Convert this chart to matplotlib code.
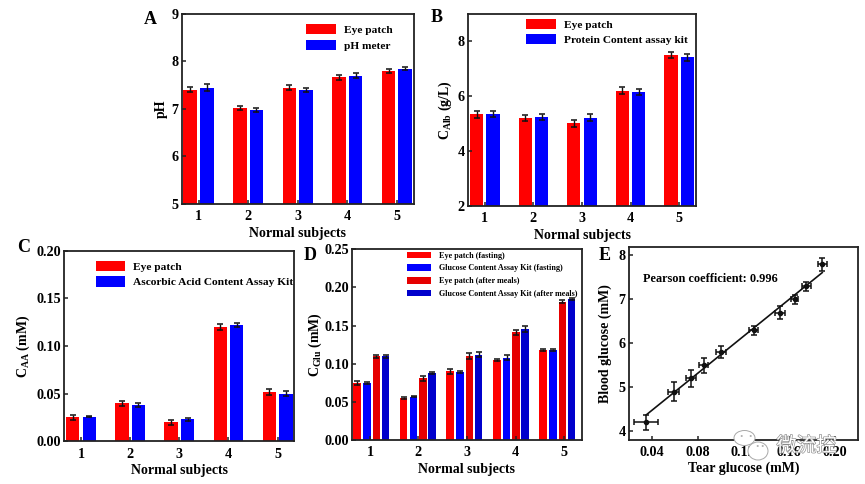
import matplotlib
matplotlib.use("Agg")
import matplotlib.pyplot as plt
import matplotlib.patheffects as pe
import numpy as np
from matplotlib.patches import Circle, Ellipse

plt.rcParams['font.family'] = ['Liberation Serif', 'DejaVu Serif']
plt.rcParams['font.weight'] = 'bold'
plt.rcParams['axes.labelweight'] = 'bold'
plt.rcParams['mathtext.fontset'] = 'custom'
plt.rcParams['mathtext.rm'] = 'Liberation Serif:bold'
plt.rcParams['mathtext.default'] = 'rm'

W, H = 865, 484
subjects = [1, 2, 3, 4, 5]

# A
ph_patch = [7.41, 7.02, 7.45, 7.67, 7.80]
ph_patch_err = [0.06, 0.05, 0.05, 0.05, 0.04]
ph_meter = [7.45, 6.98, 7.40, 7.70, 7.85]
ph_meter_err = [0.07, 0.04, 0.04, 0.05, 0.03]

# B
alb_patch = [5.33, 5.20, 5.00, 6.20, 7.50]
alb_patch_err = [0.12, 0.12, 0.12, 0.12, 0.12]
alb_kit = [5.35, 5.24, 5.21, 6.15, 7.41]
alb_kit_err = [0.12, 0.12, 0.13, 0.12, 0.12]

# C
aa_patch = [0.025, 0.040, 0.020, 0.120, 0.052]
aa_patch_err = [0.003, 0.0025, 0.0025, 0.003, 0.003]
aa_kit = [0.026, 0.038, 0.023, 0.122, 0.050]
aa_kit_err = [0.001, 0.0025, 0.0015, 0.0025, 0.0025]

# D
glu_patch_fast = [0.075, 0.055, 0.090, 0.105, 0.118]
glu_patch_fast_err = [0.003, 0.001, 0.003, 0.001, 0.001]
glu_kit_fast = [0.075, 0.057, 0.089, 0.108, 0.118]
glu_kit_fast_err = [0.001, 0.001, 0.001, 0.003, 0.001]
glu_patch_meal = [0.110, 0.081, 0.110, 0.141, 0.181]
glu_patch_meal_err = [0.002, 0.003, 0.004, 0.003, 0.002]
glu_kit_meal = [0.110, 0.088, 0.112, 0.145, 0.185]
glu_kit_meal_err = [0.002, 0.001, 0.003, 0.004, 0.001]

# E
tear = [0.035, 0.059, 0.0742, 0.0855, 0.1005, 0.129, 0.152, 0.165, 0.175, 0.189]
tear_err = [0.0105, 0.005, 0.004, 0.004, 0.004, 0.004, 0.004, 0.003, 0.004, 0.004]
blood = [4.2, 4.9, 5.2, 5.5, 5.8, 6.3, 6.7, 7.0, 7.3, 7.8]
blood_err = [0.17, 0.22, 0.2, 0.17, 0.14, 0.1, 0.14, 0.11, 0.1, 0.15]
fit_x = [0.035, 0.189]
fit_y = [4.37, 7.61]

err_style = dict(ecolor='#111111', elinewidth=1, capsize=2.2, capthick=1.1)
leg_style = dict(loc='upper right', frameon=False, fontsize=8.2, handlelength=2.6, handleheight=1.0,
                 labelspacing=0.4, handletextpad=0.7, borderpad=0, borderaxespad=0)


def make_axes(left, right, top, bottom):
    ax = fig.add_axes([left / W, 1 - bottom / H, (right - left) / W, (bottom - top) / H])
    for s in ax.spines.values():
        s.set_linewidth(1.3)
        s.set_color('#222222')
    ax.tick_params(direction='in', length=3, width=1.1, labelsize=10.2, color='#222222')
    ax.tick_params(axis='x', pad=4.5)
    ax.tick_params(axis='y', pad=2.5)
    return ax


def two_bars(ax, a, a_err, b, b_err, label_a, label_b):
    x = np.array(subjects)
    ax.bar(x - 0.168, a, 0.272, color='#ff0000', label=label_a, yerr=a_err, error_kw=err_style)
    ax.bar(x + 0.168, b, 0.272, color='#0000ff', label=label_b, yerr=b_err, error_kw=err_style)
    ax.set_xlim(0.66, 5.34)
    ax.set_xticks(subjects)
    ax.set_xlabel('Normal subjects', fontsize=10, labelpad=2.6)


def panel_letter(x, y, s):
    fig.text(x / W, 1 - y / H, s, fontsize=13, ha='left', va='center')


fig = plt.figure(figsize=(W / 100, H / 100), dpi=100)

# panel A
ax = make_axes(181.7, 413.7, 14, 204)
two_bars(ax, ph_patch, ph_patch_err, ph_meter, ph_meter_err, 'Eye patch', 'pH meter')
ax.set_ylim(5, 9)
ax.set_yticks([5, 6, 7, 8, 9])
ax.set_ylabel('pH', fontsize=10, labelpad=2.3)
ax.legend(bbox_to_anchor=(0.908, 0.947), **leg_style)
panel_letter(144, 19, 'A')

# panel B
ax = make_axes(468.3, 695.7, 13.7, 205.7)
two_bars(ax, alb_patch, alb_patch_err, alb_kit, alb_kit_err, 'Eye patch', 'Protein Content assay kit')
ax.set_ylim(2, 9)
ax.set_yticks([2, 4, 6, 8])
ax.set_ylabel(r'C$_{\mathrm{Alb}}$ (g/L)', fontsize=10, labelpad=3)
ax.legend(bbox_to_anchor=(0.965, 0.974), **leg_style)
panel_letter(431, 18, 'B')

# panel C
ax = make_axes(64.3, 294.3, 250.7, 441.3)
two_bars(ax, aa_patch, aa_patch_err, aa_kit, aa_kit_err, 'Eye patch', 'Ascorbic Acid Content Assay Kit')
ax.set_ylim(0, 0.2)
ax.set_yticks([0, 0.05, 0.10, 0.15, 0.20])
ax.set_yticklabels(['0.00', '0.05', '0.10', '0.15', '0.20'])
ax.set_ylabel(r'C$_{\mathrm{AA}}$ (mM)', fontsize=10, labelpad=3)
ax.legend(bbox_to_anchor=(0.997, 0.947), **leg_style)
panel_letter(17, 248, 'C')

# panel D, the tick labels sit a little wider apart than the bar groups
ax = make_axes(352.3, 581.7, 249.3, 440)
x = np.array(subjects)
offsets = [-0.307, -0.093, 0.107, 0.305]
d_ticks = [0.968, 2.006, 3.046, 4.10, 5.146]
series = [
    (glu_patch_fast, glu_patch_fast_err, '#ff0000', 'Eye patch (fasting)'),
    (glu_kit_fast, glu_kit_fast_err, '#0000ff', 'Glucose Content Assay Kit (fasting)'),
    (glu_patch_meal, glu_patch_meal_err, '#e60000', 'Eye patch (after meals)'),
    (glu_kit_meal, glu_kit_meal_err, '#0000cc', 'Glucose Content Assay Kit (after meals)'),
]
for off, (vals, errs, col, lab) in zip(offsets, series):
    ax.bar(x + off, vals, 0.162, color=col, label=lab, yerr=errs, error_kw=err_style)
ax.set_xlim(0.587, 5.52)
ax.set_xticks(d_ticks)
ax.set_xticklabels(subjects)
ax.set_xlabel('Normal subjects', fontsize=10, labelpad=2.6)
ax.set_ylim(0, 0.25)
ax.set_yticks([0, 0.05, 0.10, 0.15, 0.20, 0.25])
ax.set_yticklabels(['0.00', '0.05', '0.10', '0.15', '0.20', '0.25'])
ax.set_ylabel(r'C$_{\mathrm{Glu}}$ (mM)', fontsize=10, labelpad=0.2)
ax.legend(loc='upper right', frameon=False, fontsize=5.9, bbox_to_anchor=(0.983, 0.987),
          handlelength=2.9, handleheight=0.85, labelspacing=0.55, handletextpad=1.0,
          borderpad=0, borderaxespad=0)
panel_letter(304, 256, 'D')

# panel E
ax = make_axes(629, 857.7, 246.7, 440)
ax.errorbar(tear, blood, xerr=tear_err, yerr=blood_err, fmt='o', color='#111111', ms=3,
            elinewidth=1.1, capsize=2.2, capthick=1.1)
ax.plot(fit_x, fit_y, color='#111111', lw=1.2)
ax.set_xlim(0.02, 0.22)
ax.set_ylim(3.8, 8.2)
ax.set_xticks([0.04, 0.08, 0.12, 0.16, 0.20])
ax.set_xticklabels(['0.04', '0.08', '0.12', '0.16', '0.20'])
ax.set_yticks([4, 5, 6, 7, 8])
ax.set_xlabel('Tear glucose (mM)', fontsize=10, labelpad=1.4)
ax.set_ylabel('Blood glucose (mM)', fontsize=10, labelpad=4.5)
ax.text(0.032, 7.47, 'Pearson coefficient: 0.996', fontsize=8.8, va='center')
panel_letter(599, 256, 'E')

# watermark over the corner of panel E
for cx, cy, w, h in [(744.5, 438, 21, 15), (758, 451, 20, 18)]:
    fig.add_artist(Ellipse((cx / W, 1 - cy / H), w / W, h / H, transform=fig.transFigure,
                           fc='white', ec='#a8a8a8', lw=0.7, zorder=10))
for cx, cy in [(741.7, 436), (750.7, 436), (757.7, 446), (762.7, 446)]:
    fig.add_artist(Circle((cx / W, 1 - cy / H), 0.0012, transform=fig.transFigure,
                          fc='#777777', ec='none', zorder=11))
mark = fig.text(776.5 / W, 1 - 446 / H, '微流控', fontsize=14.4, color='white', va='center',
                family=['Noto Sans CJK SC', 'DejaVu Sans'], weight='normal', zorder=10)
mark.set_path_effects([pe.Stroke(linewidth=0.9, foreground='#8a8a8a'), pe.Normal()])

fig.savefig('out.png', dpi=100)
